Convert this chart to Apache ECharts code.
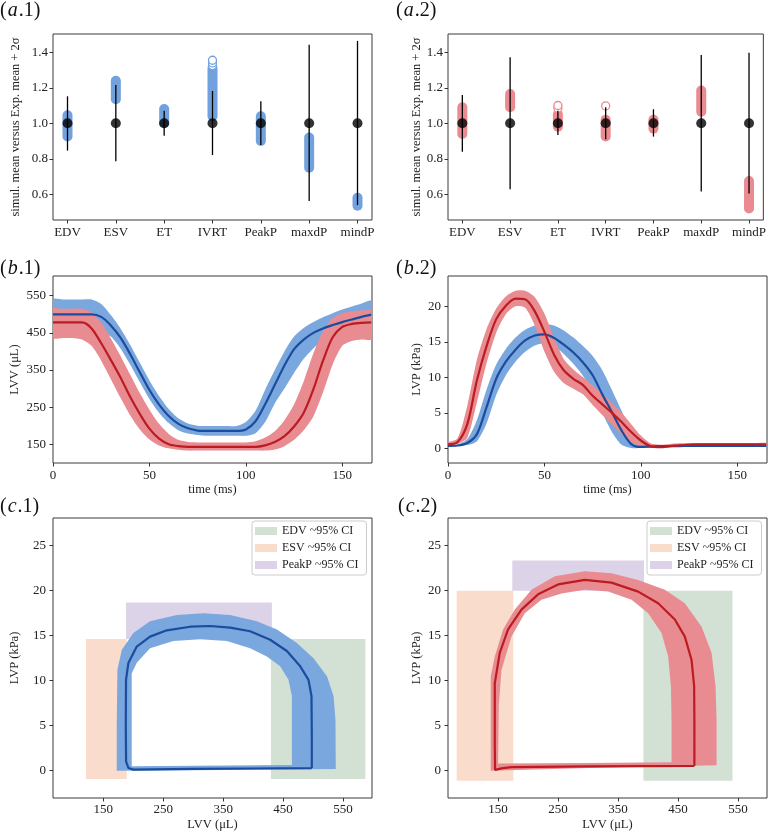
<!DOCTYPE html>
<html><head><meta charset="utf-8">
<script src="https://cdn.jsdelivr.net/npm/echarts@6/dist/echarts.min.js"></script>
<style>html,body{margin:0;padding:0;background:#fff}#c{width:769px;height:834px}</style>
</head><body><div id="c"></div>
<script>
// ---------- panel (a): ratio plots ----------
const categories = ['EDV','ESV','ET','IVRT','PeakP','maxdP','mindP'];
const ratioTicks = [0.6,0.8,1.0,1.2,1.4];
const expMean = [1,1,1,1,1,1,1];
const a1SimLo = [0.925,1.135,1.0,1.04,0.9,0.75,0.535];
const a1SimHi = [1.045,1.24,1.08,1.31,1.04,0.92,0.58];
const a1OutX = [3,3,3];
const a1OutY = [1.325,1.34,1.355];
const a1ErrLo = [0.846,0.786,0.929,0.821,0.878,0.562,0.539];
const a1ErrHi = [1.152,1.216,1.071,1.182,1.124,1.442,1.464];
const a2SimLo = [0.94,1.09,0.98,0.925,0.97,1.065,0.52];
const a2SimHi = [1.09,1.165,1.05,1.02,1.02,1.185,0.675];
const a2OutX = [2,2,3];
const a2OutY = [1.085,1.1,1.098];
const a2ErrLo = [0.84,0.628,0.934,0.91,0.925,0.615,0.605];
const a2ErrHi = [1.16,1.372,1.071,1.09,1.079,1.385,1.398];

// ---------- panel (b): time courses ----------
const timeTicks = [0,50,100,150];
const lvvTicks = [150,250,350,450,550];
const lvpTicksB = [0,5,10,15,20];
const timeMs = [0,5,10,15,20,25,30,35,40,45,50,55,60,65,70,75,80,85,90,95,100,105,110,115,120,125,130,135,140,145,150,155,160,165];
// b.1 LVV
const b1BlueMean = [500,500,500,500,500,493,470,437,393,344,296,257,226,205,193,187,186,186,186,186,190,212,258,310,362,406,432,450,462,471,479,486,493,499];
const b1BlueUp   = [540,540,540,540,540,528,498,462,418,370,322,280,245,220,206,200,199,199,199,199,210,240,297,350,400,440,463,479,492,503,513,521,529,536];
const b1BlueLo   = [458,458,458,458,455,450,440,408,365,318,272,235,207,188,179,175,173,173,173,173,173,180,210,260,300,342,380,408,430,445,452,456,458,458];
const b1RedMean  = [478,478,478,478,462,422,377,330,278,232,192,165,150,145,143,143,143,143,143,143,143,143,147,156,172,198,235,298,375,438,466,474,477,478];
const b1RedUp    = [515,515,515,515,505,478,435,388,338,288,243,205,178,162,156,155,155,155,155,155,155,158,168,185,215,258,320,395,455,490,503,508,510,510];
const b1RedLo    = [436,436,436,432,415,375,325,275,228,190,163,147,139,135,133,133,133,133,133,133,133,133,133,136,145,162,188,225,290,365,415,428,432,433];
// b.2 LVP
const b2BlueMean = [0.35,0.4,0.75,2.0,5.8,9.8,12.2,13.9,15.2,15.9,16.05,15.55,14.6,13.5,12.1,10.3,7.6,5.1,2.5,0.6,0.2,0.25,0.3,0.3,0.32,0.33,0.34,0.35,0.35,0.35,0.35,0.35,0.35,0.35];
const b2BlueUp   = [0.45,0.55,1.3,4.0,8.3,11.8,14.0,15.6,16.7,17.3,17.5,17.3,16.6,15.6,14.4,13.0,11.0,8.2,5.3,2.6,0.8,0.45,0.45,0.45,0.45,0.45,0.45,0.45,0.45,0.45,0.45,0.45,0.45,0.45];
const b2BlueLo   = [0.3,0.32,0.45,1.0,3.5,7.5,10.3,12.2,13.6,14.5,14.8,14.4,13.3,11.9,10.2,8.0,5.0,2.3,0.5,0.05,0.05,0.15,0.2,0.25,0.25,0.25,0.25,0.25,0.25,0.25,0.25,0.25,0.25,0.25];
const b2RedMean  = [0.55,0.9,3.4,9.6,14.4,18.2,20.1,21.1,21.0,19.3,16.4,13.2,11.0,9.8,8.9,7.4,6.2,5.0,3.7,2.3,1.1,0.3,0.15,0.3,0.42,0.5,0.55,0.55,0.55,0.55,0.55,0.55,0.55,0.55];
const b2RedUp    = [0.8,1.4,6.0,12.5,16.8,19.7,21.4,22.2,22.2,21.3,19.0,15.6,12.6,11.1,10.0,8.9,7.7,6.4,5.0,3.4,1.8,0.7,0.5,0.6,0.7,0.75,0.75,0.75,0.75,0.75,0.75,0.75,0.75,0.75];
const b2RedLo    = [0.45,0.6,1.5,6.5,12.0,16.3,18.9,20.0,19.8,17.3,13.6,10.8,9.2,8.4,7.6,6.1,4.7,3.4,2.0,0.9,0.3,0.1,0.05,0.15,0.25,0.3,0.35,0.35,0.35,0.35,0.35,0.35,0.35,0.35];

// ---------- panel (c): PV loops ----------
const volTicks = [150,250,350,450,550];
const lvpTicksC = [0,5,10,15,20,25];
const ciNames = ['EDV ~95% CI','ESV ~95% CI','PeakP ~95% CI'];
// boxes: [Vmin, Vmax, Pmin, Pmax]
const c1EdvBox = [429.8,587.4,-0.92,14.63];
const c1EsvBox = [121.1,189.1,-0.92,14.63];
const c1PeakBox = [187.9,431.4,14.63,18.7];
const c2EdvBox = [392.4,540.9,-1.1,20.0];
const c2EsvBox = [80.9,175.4,-1.1,20.0];
const c2PeakBox = [173.7,393.4,20.0,23.37];
// c.1 loops
const c1MeanV = [498,498,497.5,492.5,478.7,456.4,428.5,395.1,361.7,328.3,294.9,255.9,228,205.8,191.8,187.9,187.5,188,192,200,300,400,498];
const c1MeanP = [0.3,4,8.3,10.1,11.6,13.3,14.55,15.5,15.9,16.08,16.0,15.6,14.9,13.8,11.96,10.1,5,1.0,0.3,0.12,0.2,0.25,0.3];
const c1OuterV = [538,537.5,534.3,523.3,500.9,473.1,439.7,406.3,361.7,317,272.6,228,200.1,180.7,173.5,172.4,172.4,300,538];
const c1OuterP = [0.3,5.7,8.3,10.5,12.5,14.2,15.7,16.6,17.3,17.5,17.3,16.6,15.3,13.4,11.2,5,0.0,0.05,0.2];
const c1InnerV = [464.8,464.8,459.1,445.2,423,395.1,356.2,311.6,267,228,205.8,197.4,197.4,300,464.8];
const c1InnerP = [0.65,8.3,10.1,11.6,12.7,13.6,14.4,14.6,14.4,13.6,12.0,10.8,0.5,0.55,0.65];
// c.2 loops
const c2MeanV = [477.4,477.4,477,472.7,461.5,444.8,417,383.6,339.2,294.7,250.1,216.7,189,166.7,152.8,144.5,144.5,145,155.6,172.4,300,400,477.4];
const c2MeanP = [0.55,5.6,9.4,12.3,14.9,16.8,18.6,19.9,20.9,21.2,20.7,19.6,17.9,15.7,13.1,9.7,3,0.1,0.26,0.4,0.48,0.52,0.55];
const c2OuterV = [514.4,514.4,512.7,506.1,489.4,461.5,428.1,383.6,339.2,294.7,244.6,205.7,177.9,158.3,144.5,137.8,137.8,300,514.4];
const c2OuterP = [0.6,5.6,9.4,13.1,16.0,18.6,20.1,21.2,21.95,22.15,21.6,20.1,17.9,15.7,12.7,10.5,0.0,0.3,0.6];
const c2InnerV = [439.3,439.3,438.2,433.7,422.6,400.3,372.6,333.5,294.7,255.8,222.4,194.6,172.4,155.7,151.2,150,300,439.3];
const c2InnerP = [0.93,5.6,9.4,12.7,15.3,17.5,19.0,19.9,20.1,19.7,19.0,17.5,14.9,11.2,7.3,0.8,0.85,0.93];

// ---------- styling ----------
const FONT = 'Liberation Serif';
const BLUE_BAND = '#7aa7de', BLUE_LINE = '#1c4c9e', BLUE_BAR = '#72a2dd';
const RED_BAND = '#e98c91', RED_LINE = '#bb1c22', RED_BAR = '#e98b91';
const C_EDV = '#d2e1d4', C_ESV = '#f9dccb', C_PEAK = '#ddd3e8';

const grids = [
  {left:53, top:34, width:319, height:186},
  {left:448, top:34, width:318, height:186},
  {left:53, top:276, width:319, height:187},
  {left:448, top:276, width:319, height:187},
  {left:53, top:518, width:319, height:280},
  {left:448, top:518, width:319, height:280}
].map(g => Object.assign({show:true, borderColor:'#3a3a3a', borderWidth:1, backgroundColor:'transparent'}, g));

function mkAxis(gi, min, max, ticks, fmt, name, nameGap, isY, margin){
  return {
    type:'value', gridIndex:gi, min:min, max:max,
    position: isY ? 'left' : 'bottom',
    axisLine:{show:false, onZero:false},
    axisTick:{show:true, inside:false, length:3.5, lineStyle:{color:'#333', width:1}, customValues:ticks},
    axisLabel:{show:true, customValues:ticks, formatter:fmt, fontFamily:FONT, fontSize:13, color:'#222', margin:margin},
    splitLine:{show:false},
    name:name, nameLocation:'middle', nameGap:nameGap,
    nameTextStyle:{fontFamily:FONT, fontSize:12.5, color:'#222'}
  };
}
const catFmt = v => categories[Math.round(v)];
const f1 = v => v.toFixed(1);
const f0 = v => String(Math.round(v));
const idx = [0,1,2,3,4,5,6];

const xAxes = [
  mkAxis(0,-0.3,6.3,idx,catFmt,'',0,false,6),
  mkAxis(1,-0.3,6.3,idx,catFmt,'',0,false,6),
  mkAxis(2,0,165.4,timeTicks,f0,'time (ms)',15,false,6),
  mkAxis(3,0,165.4,timeTicks,f0,'time (ms)',15,false,6),
  mkAxis(4,66,598.5,volTicks,f0,'LVV (μL)',20,false,5),
  mkAxis(5,66.5,598.5,volTicks,f0,'LVV (μL)',20,false,5)
];
const yAxes = [
  mkAxis(0,0.455,1.503,ratioTicks,f1,'simul. mean versus Exp. mean + 2σ',31,true,5),
  mkAxis(1,0.455,1.503,ratioTicks,f1,'simul. mean versus Exp. mean + 2σ',23,true,5),
  mkAxis(2,99.6,603.1,lvvTicks,f0,'LVV (μL)',32,true,7),
  mkAxis(3,-2.07,24.28,lvpTicksB,f0,'LVP (kPa)',25,true,7),
  mkAxis(4,-3.03,28.08,lvpTicksC,f0,'LVP (kPa)',32,true,7),
  mkAxis(5,-3.03,28.08,lvpTicksC,f0,'LVP (kPa)',25,true,7)
];

// ---------- series builders ----------
function vSegSeries(ai, lo, hi, color, width, cap, z){
  return {type:'custom', xAxisIndex:ai, yAxisIndex:ai, z:z, silent:true,
    data: lo.map((l,i)=>[i,l,hi[i]]),
    renderItem(params, api){
      const p0 = api.coord([api.value(0), api.value(1)]);
      const p1 = api.coord([api.value(0), api.value(2)]);
      return {type:'line', shape:{x1:p0[0],y1:p0[1],x2:p1[0],y2:p1[1]},
        style:{stroke:color, lineWidth:width, lineCap:cap}};
    }};
}
function outlierSeries(ai, xs, ys, color){
  return {type:'scatter', xAxisIndex:ai, yAxisIndex:ai, z:3, silent:true,
    data: xs.map((x,i)=>[x,ys[i]]), symbol:'circle', symbolSize:8,
    itemStyle:{color:'#ffffff', borderColor:color, borderWidth:1.3, opacity:1}};
}
function dotSeries(ai){
  return {type:'scatter', xAxisIndex:ai, yAxisIndex:ai, z:6, silent:true,
    data: expMean.map((v,i)=>[i,v]), symbol:'circle', symbolSize:10,
    itemStyle:{color:'#000'}};
}
function bandSeries(ai, xs, up, lo, color, z){
  return {type:'custom', xAxisIndex:ai, yAxisIndex:ai, z:z, silent:true, clip:true,
    data:[[xs[0], up[0]]],
    renderItem(params, api){
      const pts = [];
      xs.forEach((x,i)=>pts.push(api.coord([x, up[i]])));
      for(let i=xs.length-1;i>=0;i--) pts.push(api.coord([xs[i], lo[i]]));
      return {type:'polygon', shape:{points:pts, smooth:0.25}, style:{fill:color}};
    }};
}
function meanLine(ai, xs, ys, color, z, smooth){
  return {type:'line', xAxisIndex:ai, yAxisIndex:ai, z:z, silent:true,
    data: xs.map((x,i)=>[x,ys[i]]), showSymbol:false, symbol:'none',
    smooth:smooth, lineStyle:{color:color, width:2.2}};
}
function ringSeries(ai, oV, oP, iV, iP, color, z){
  return {type:'custom', xAxisIndex:ai, yAxisIndex:ai, z:z, silent:true, clip:true,
    data:[[oV[0], oP[0]]],
    renderItem(params, api){
      const pts = [];
      oV.forEach((v,i)=>pts.push(api.coord([v, oP[i]])));
      pts.push(api.coord([oV[0], oP[0]]));
      pts.push(api.coord([iV[0], iP[0]]));
      for(let i=iV.length-1;i>=0;i--) pts.push(api.coord([iV[i], iP[i]]));
      return {type:'polygon', shape:{points:pts}, style:{fill:color}};
    }};
}
function boxSeries(ai, name, box, color){
  return {type:'custom', name:name, xAxisIndex:ai, yAxisIndex:ai, z:1, silent:true,
    itemStyle:{color:color},
    data:[[box[0], box[1], box[2], box[3]]],
    renderItem(params, api){
      const a = api.coord([api.value(0), api.value(3)]);
      const b = api.coord([api.value(1), api.value(2)]);
      return {type:'rect', shape:{x:a[0], y:a[1], width:b[0]-a[0], height:b[1]-a[1]},
        style:{fill:api.visual('color')}};
    }};
}

const series = [
  // a.1
  vSegSeries(0, a1SimLo, a1SimHi, BLUE_BAR, 10, 'round', 2),
  outlierSeries(0, a1OutX, a1OutY, BLUE_BAR),
  vSegSeries(0, a1ErrLo, a1ErrHi, '#000', 1.3, 'butt', 5),
  dotSeries(0),
  // a.2
  vSegSeries(1, a2SimLo, a2SimHi, RED_BAR, 10, 'round', 2),
  outlierSeries(1, a2OutX, a2OutY, RED_BAR),
  vSegSeries(1, a2ErrLo, a2ErrHi, '#000', 1.3, 'butt', 5),
  dotSeries(1),
  // b.1
  bandSeries(2, timeMs, b1BlueUp, b1BlueLo, BLUE_BAND, 2),
  bandSeries(2, timeMs, b1RedUp, b1RedLo, RED_BAND, 3),
  meanLine(2, timeMs, b1BlueMean, BLUE_LINE, 4, 0.3),
  meanLine(2, timeMs, b1RedMean, RED_LINE, 5, 0.3),
  // b.2
  bandSeries(3, timeMs, b2BlueUp, b2BlueLo, BLUE_BAND, 2),
  bandSeries(3, timeMs, b2RedUp, b2RedLo, RED_BAND, 3),
  meanLine(3, timeMs, b2BlueMean, BLUE_LINE, 4, 0.3),
  meanLine(3, timeMs, b2RedMean, RED_LINE, 5, 0.3),
  // c.1
  boxSeries(4, ciNames[0], c1EdvBox, C_EDV),
  boxSeries(4, ciNames[1], c1EsvBox, C_ESV),
  boxSeries(4, ciNames[2], c1PeakBox, C_PEAK),
  ringSeries(4, c1OuterV, c1OuterP, c1InnerV, c1InnerP, BLUE_BAND, 2),
  meanLine(4, c1MeanV, c1MeanP, BLUE_LINE, 4, false),
  // c.2
  boxSeries(5, ciNames[0], c2EdvBox, C_EDV),
  boxSeries(5, ciNames[1], c2EsvBox, C_ESV),
  boxSeries(5, ciNames[2], c2PeakBox, C_PEAK),
  ringSeries(5, c2OuterV, c2OuterP, c2InnerV, c2InnerP, RED_BAND, 2),
  meanLine(5, c2MeanV, c2MeanP, RED_LINE, 4, false)
];

function mkLegend(left){
  return {show:true, data:ciNames, orient:'vertical', left:left, top:521,
    icon:'rect', itemWidth:22, itemHeight:8, itemGap:5, selectedMode:false,
    padding:[4,8,4,3], backgroundColor:'rgba(255,255,255,0.85)', borderColor:'#cccccc', borderWidth:1, borderRadius:3,
    textStyle:{fontFamily:FONT, fontSize:12, color:'#222', lineHeight:12}};
}

function panelLabel(x, y, letter, num){
  return {type:'text', left:x, top:y, z:10,
    style:{text:'{n|(}{i|'+letter+'}{n|.'+num+')}', rich:{
      n:{fontFamily:FONT, fontSize:20, fill:'#111'},
      i:{fontFamily:FONT, fontSize:20, fontStyle:'italic', fill:'#111', padding:[0,1,0,1]}}}};
}

const chart = echarts.init(document.getElementById('c'), null, {renderer:'canvas'});
chart.setOption({
  animation:false,
  backgroundColor:'#ffffff',
  grid:grids, xAxis:xAxes, yAxis:yAxes, series:series,
  legend:[mkLegend(252), mkLegend(647)],
  graphic:[
    panelLabel(0,1,'a','1'), panelLabel(396,1,'a','2'),
    panelLabel(0,259,'b','1'), panelLabel(396,259,'b','2'),
    panelLabel(0,497,'c','1'), panelLabel(398,497,'c','2')
  ]
});
</script></body></html>
